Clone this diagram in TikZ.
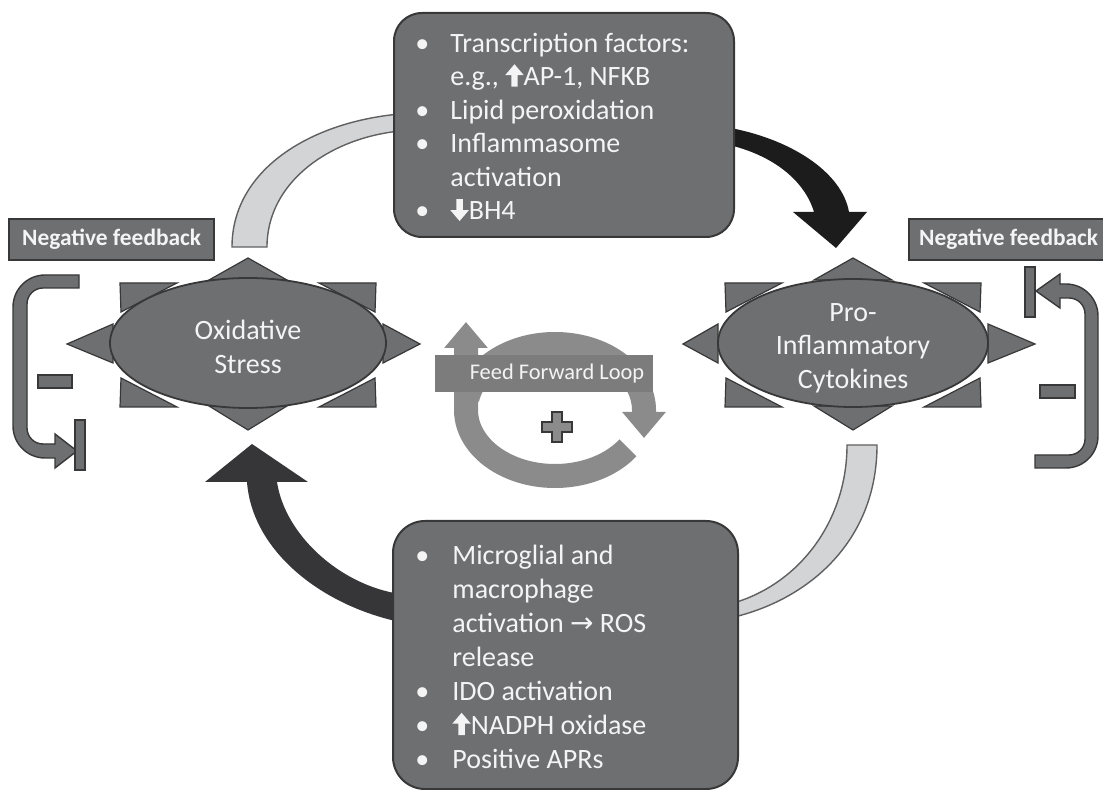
\documentclass[tikz,border=0pt]{standalone}
\usepackage{fontspec}
\setmainfont{Carlito}
\newfontfamily\dejavu{DejaVu Sans}
\usetikzlibrary{arrows.meta,shapes.geometric}
\definecolor{boxgray}{HTML}{6E6F71}
\definecolor{edgegray}{HTML}{383838}
\definecolor{lightband}{HTML}{D3D4D6}
\definecolor{ringgray}{HTML}{8B8B8B}
\definecolor{bannergray}{HTML}{7C7C7C}
\definecolor{textwhite}{HTML}{F4F4F4}
\definecolor{darkarrow}{HTML}{1C1C1C}
\definecolor{darkarrowb}{HTML}{363638}
\newcommand\thickup{\tikz[x=1pt,y=1pt,baseline=0pt]{\fill[textwhite] (-0.3,5.4)--(4.3,10.8)--(8.9,5.4)--(5.9,5.4)--(5.9,-0.4)--(2.7,-0.4)--(2.7,5.4)--cycle;}}
\newcommand\thickdown{\tikz[x=1pt,y=1pt,baseline=0pt]{\fill[textwhite] (-0.3,4.8)--(4.3,-0.6)--(8.9,4.8)--(5.9,4.8)--(5.9,10.4)--(2.7,10.4)--(2.7,4.8)--cycle;}}
\tikzset{
  infobox/.style={draw=edgegray, line width=1pt, fill=boxgray, inner sep=0pt},
  negbox/.style={draw=edgegray, line width=1.2pt, fill=boxgray, inner sep=0pt, text=textwhite, font=\fontsize{11.7}{13}\selectfont\bfseries},
  ellnode/.style={ellipse, draw=edgegray, line width=0.9pt, fill=boxgray, inner sep=0pt},
  elltext/.style={text=textwhite, align=center, font=\fontsize{14}{16.75}\selectfont, inner sep=0pt},
  tri/.style={draw=edgegray, line width=0.6pt, fill=boxgray},
  fbk/.style={draw=edgegray, line width=0.7pt, fill=boxgray},
  listtext/.style={anchor=north west, inner sep=0pt, text=textwhite},
  ringarrow/.style={ringgray, line width=12pt, -{Triangle[width=21pt,length=13pt]}},
}
\begin{document}
\begin{tikzpicture}[x=0.5pt,y=-0.5pt]
\useasboundingbox (0,0) rectangle (1103,790);
\fill[white] (0,0) rectangle (1103,790);

% ---- big curved arrows (behind boxes) ----
\filldraw[fill=lightband, draw=edgegray!80, line width=0.7pt]
  (232,247) .. controls (232,170) and (310,122) .. (400,114) -- (400,131)
  .. controls (330,138) and (267,182) .. (267,247) -- cycle;
\fill[darkarrow] (725,127) .. controls (790,138) and (842,172) .. (849,212)
  -- (867,212) -- (836,248) -- (793,212) -- (814,212)
  .. controls (805,182) and (775,155) .. (725,144) -- cycle;
\filldraw[fill=lightband, draw=edgegray!80, line width=0.7pt]
  (847,445) -- (877,445) .. controls (877,540) and (810,600) .. (730,618)
  -- (730,604) .. controls (800,585) and (847,520) .. (847,445) -- cycle;
\fill[darkarrowb] (400,622) .. controls (320,605) and (252,550) .. (247,482)
  -- (205,482) -- (252,444) -- (308,482) -- (277,482)
  .. controls (285,535) and (340,585) .. (400,594) -- cycle;

% ---- info boxes ----
\node[infobox, rounded corners=14pt, minimum width=170pt, minimum height=112pt, anchor=north west] (topbox) at (393,12) {};
\node[listtext, font=\fontsize{14}{16.75}\selectfont] (toplist) at (415,28.5)
 {\begin{tabular}{@{}p{17.5pt}@{}l@{}}
 •&Transcription factors:\\
 &e.g., \thickup AP-1, NFKB\\
 •&Lipid peroxidation\\
 •&Inflammasome\\
 &activation\\
 •&\thickdown BH4
 \end{tabular}};

\node[infobox, rounded corners=16pt, minimum width=172.5pt, minimum height=134pt, anchor=north west] (botbox) at (392,520) {};
\node[listtext, font=\fontsize{14}{17}\selectfont] (botlist) at (415,540.2)
 {\begin{tabular}{@{}p{18.5pt}@{}l@{}}
 •&Microglial and\\
 &macrophage\\
 &activation {\dejavu\fontsize{14}{17}\selectfont →} ROS\\
 &release\\
 •&IDO activation\\
 •&\thickup NADPH oxidase\\
 •&Positive APRs
 \end{tabular}};

% ---- ellipses with triangles ----
\foreach \cx/\la/\ra in {248/-181/172, 853/-170/182}{
  \begin{scope}[shift={(\cx,343)}]
    \filldraw[tri] (-39,-63) -- (39,-63) -- (0,-85) -- cycle;
    \filldraw[tri] (-39,63) -- (39,63) -- (0,87) -- cycle;
    \filldraw[tri] (-135,-19) -- (-135,20) -- (\la,1) -- cycle;
    \filldraw[tri] (135,-19) -- (135,20) -- (\ra,1) -- cycle;
    \filldraw[tri] (-128,-60) -- (-71,-60) -- (-127,-31) -- cycle;
    \filldraw[tri] (128,-60) -- (71,-60) -- (127,-31) -- cycle;
    \filldraw[tri] (-128,64) -- (-71,64) -- (-127,35) -- cycle;
    \filldraw[tri] (128,64) -- (71,64) -- (127,35) -- cycle;
  \end{scope}
}
\node[ellnode, minimum width=138pt, minimum height=65pt] (oxs) at (248,343) {};
\node[elltext] (oxstext) at (248,347) {Oxidative\\Stress};
\node[ellnode, minimum width=135pt, minimum height=64pt] (pic) at (853,343) {};
\node[elltext] (pictext) at (853,348) {Pro-\\Inflammatory\\Cytokines};

% ---- negative feedback labels ----
\node[negbox, minimum width=102.5pt, minimum height=20.5pt, anchor=north west] (negL) at (8,218) {Negative feedback};
\node[negbox, minimum width=99.5pt, minimum height=20.5pt, anchor=north west] (negR) at (908,218) {Negative feedback};

% ---- left feedback bracket ----
\filldraw[fbk] (79,275) [rounded corners=16pt] -- (13,275) -- (13,458) [sharp corners] -- (55,458)
  -- (55,468) -- (77,451) -- (55,434) -- (55,444) [rounded corners=8pt] -- (27,444) -- (27,288) [sharp corners] -- (79,288) -- cycle;
\filldraw[fbk] (75,420) rectangle (85,470);
\filldraw[fbk] (38,375) rectangle (72,388);

% ---- right feedback bracket ----
\filldraw[fbk] (1035,468) [rounded corners=16pt] -- (1098,468) -- (1098,284) [sharp corners] -- (1060,284)
  -- (1060,274) -- (1036,291) -- (1060,308) -- (1060,298) [rounded corners=8pt] -- (1085,298) -- (1085,455) [sharp corners] -- (1035,455) -- cycle;
\filldraw[fbk] (1025,267) rectangle (1035,317);
\filldraw[fbk] (1040,385) rectangle (1075,398);

% ---- feed forward loop ----
\begin{scope}[shift={(555,410)}, y=0.5pt]
  \draw[ringarrow] (170:89 and 66) arc[start angle=170, end angle=0, x radius=89, y radius=66] -- ++(0,-28);
  \draw[ringarrow] (-35:89 and 66) arc[start angle=-35, end angle=-180, x radius=89, y radius=66] -- ++(0,88);
\end{scope}
\filldraw[draw=edgegray, line width=0.7pt, fill=ringgray] (552,412) -- (562,412) -- (562,422) -- (572,422) -- (572,432) -- (562,432) -- (562,442) -- (552,442) -- (552,432) -- (542,432) -- (542,422) -- (552,422) -- cycle;
\node[fill=bannergray, inner sep=0pt, minimum width=109pt, minimum height=18.5pt] (banner) at (544,373.5) {};
\node[text=textwhite, font=\fontsize{11.2}{13}\selectfont, inner sep=0pt] (bannertext) at (557,373.5) {Feed Forward Loop};
\end{tikzpicture}
\end{document}
